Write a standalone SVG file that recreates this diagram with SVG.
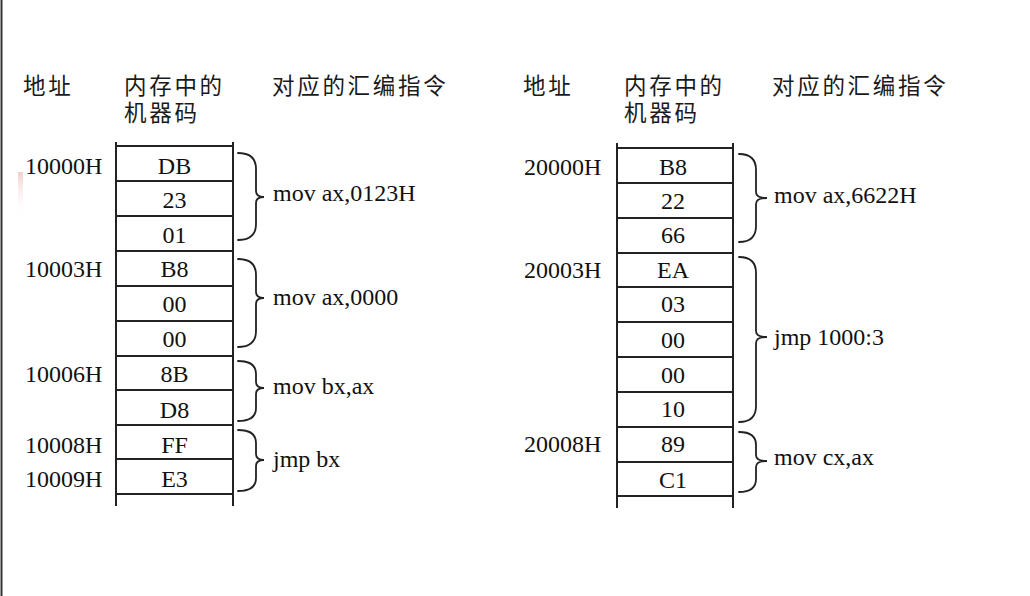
<svg xmlns="http://www.w3.org/2000/svg" width="1030" height="596" viewBox="0 0 1030 596">
<defs>
<style>
.hd{font-family:"Noto Sans CJK SC","Noto Sans",sans-serif;font-size:22.5px;letter-spacing:2.7px;fill:#1a1a1a}
.t{font-family:"Liberation Serif",serif;font-size:24px;fill:#111}
.c{font-family:"Liberation Serif",serif;font-size:24px;fill:#111;text-anchor:middle}
.ln{stroke:#222;stroke-width:2;fill:none}
.br{stroke:#222;stroke-width:1.8;fill:none;stroke-linecap:round}
</style>
<linearGradient id="pk" x1="0" y1="0" x2="0" y2="1">
<stop offset="0" stop-color="#f3c8c8" stop-opacity="0.9"/>
<stop offset="1" stop-color="#ffffff" stop-opacity="0"/>
</linearGradient>
</defs>
<rect width="1030" height="596" fill="#fff"/>
<line x1="1.5" y1="0" x2="1.5" y2="596" stroke="#333" stroke-width="2"/>
<rect x="18" y="172" width="5" height="46" fill="url(#pk)"/>

<g id="header-left">
<text class="hd" x="23" y="94">地址</text>
<text class="hd"><tspan x="124" y="94">内存中的</tspan><tspan x="124" y="121">机器码</tspan></text>
<text class="hd" x="272" y="94">对应的汇编指令</text>
</g>
<g id="header-right">
<text class="hd" x="523" y="94">地址</text>
<text class="hd"><tspan x="624" y="94">内存中的</tspan><tspan x="624" y="121">机器码</tspan></text>
<text class="hd" x="772" y="94">对应的汇编指令</text>
</g>

<g id="memory-left">
<line class="ln" x1="116" y1="142" x2="116" y2="506"/>
<line class="ln" x1="233" y1="142" x2="233" y2="506"/>
<path class="ln" d="M116 146H233M116 181H233M116 216H233M116 251H233M116 286H233M116 321H233M116 356H233M116 390H233M116 425H233M116 459H233M116 494H233"/>
<text class="c" x="174.5" y="174">DB</text>
<text class="c" x="174.5" y="208">23</text>
<text class="c" x="174.5" y="243">01</text>
<text class="c" x="174.5" y="277">B8</text>
<text class="c" x="174.5" y="312">00</text>
<text class="c" x="174.5" y="347">00</text>
<text class="c" x="174.5" y="382">8B</text>
<text class="c" x="174.5" y="418">D8</text>
<text class="c" x="174.5" y="453">FF</text>
<text class="c" x="174.5" y="487">E3</text>
</g>
<g id="addresses-left">
<text class="t" x="25" y="174">10000H</text>
<text class="t" x="25" y="277">10003H</text>
<text class="t" x="25" y="382">10006H</text>
<text class="t" x="25" y="453">10008H</text>
<text class="t" x="25" y="487">10009H</text>
</g>

<g id="memory-right">
<line class="ln" x1="617" y1="143" x2="617" y2="508"/>
<line class="ln" x1="733" y1="143" x2="733" y2="508"/>
<path class="ln" d="M617 148H733M617 183H733M617 218H733M617 253H733M617 287H733M617 322H733M617 357H733M617 392H733M617 427H733M617 462H733M617 496H733"/>
<text class="c" x="673" y="175">B8</text>
<text class="c" x="673" y="209">22</text>
<text class="c" x="673" y="243">66</text>
<text class="c" x="673" y="278">EA</text>
<text class="c" x="673" y="312">03</text>
<text class="c" x="673" y="348">00</text>
<text class="c" x="673" y="383">00</text>
<text class="c" x="673" y="417">10</text>
<text class="c" x="673" y="452">89</text>
<text class="c" x="673" y="488">C1</text>
</g>
<g id="addresses-right">
<text class="t" x="524" y="175">20000H</text>
<text class="t" x="524" y="278">20003H</text>
<text class="t" x="524" y="452">20008H</text>
</g>

<g id="connectors">
<path class="br" d="M238 153Q256 153 256 169L256 191Q256 197 264 197Q256 197 256 203L256 224Q256 240 238 240"/>
<path class="br" d="M238 259Q256 259 256 275L256 292Q256 298 264 298Q256 298 256 304L256 331Q256 347 238 347"/>
<path class="br" d="M238 361Q256 361 256 374L256 382Q256 388 264 388Q256 388 256 394L256 408Q256 421 238 421"/>
<path class="br" d="M238 430Q256 430 256 443L256 454Q256 460 264 460Q256 460 256 466L256 478Q256 491 238 491"/>
<path class="br" d="M739 154Q756 154 756 170L756 192Q756 198 767 198Q756 198 756 204L756 226Q756 242 739 242"/>
<path class="br" d="M739 257Q756 257 756 273L756 331Q756 337 767 337Q756 337 756 343L756 406Q756 422 739 422"/>
<path class="br" d="M739 432Q756 432 756 445L756 455Q756 461 767 461Q756 461 756 467L756 479Q756 492 739 492"/>
</g>

<g id="instructions">
<text class="t" x="273" y="201">mov ax,0123H</text>
<text class="t" x="273" y="305">mov ax,0000</text>
<text class="t" x="273" y="394">mov bx,ax</text>
<text class="t" x="273" y="467">jmp bx</text>
<text class="t" x="774" y="203">mov ax,6622H</text>
<text class="t" x="774" y="345">jmp 1000:3</text>
<text class="t" x="774" y="465">mov cx,ax</text>
</g>
</svg>
